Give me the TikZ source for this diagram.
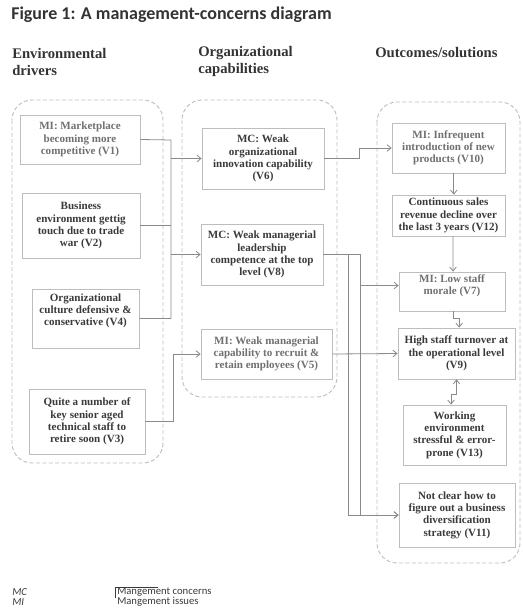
\documentclass[tikz,border=0pt]{standalone}
\usepackage{fontspec}
\setmainfont{Liberation Serif}
\newfontfamily\carl{Carlito}
\usetikzlibrary{arrows.meta,calc}
\definecolor{boxline}{HTML}{BDBDBD}
\definecolor{contline}{HTML}{BEBEBE}
\definecolor{connline}{HTML}{8A8A8A}
\definecolor{darktext}{HTML}{3A3A3A}
\definecolor{mitext}{HTML}{707070}
\definecolor{headtext}{HTML}{333333}
\begin{document}
\begin{tikzpicture}[x=0.75pt,y=-0.75pt,
  boxtext/.style={align=center, font=\bfseries\fontsize{8.3}{9.2}\selectfont, text=darktext, inner sep=1pt},
  box/.style={boxtext, draw=boxline, line width=0.6pt},
  mi/.style={text=mitext},
  cont/.style={draw=contline, dash pattern=on 3pt off 1.8pt, line width=0.7pt, rounded corners=15pt},
  conn/.style={draw=connline, line width=0.6pt},
  arr/.style={conn, -{Straight Barb[length=3pt,width=5pt]}},
  dbl/.style={conn, {Straight Barb[length=3pt,width=5pt]}-{Straight Barb[length=3pt,width=5pt]}},
  head/.style={align=left, font=\bfseries\fontsize{11}{12.75}\selectfont, text=headtext, inner sep=0pt},
  legend/.style={font=\carl\fontsize{8}{8.5}\selectfont, text=darktext, inner sep=0pt, anchor=west}
]
\useasboundingbox (0,0) rectangle (522,614);

% title and headers
\node[anchor=west, inner sep=0pt, font=\carl\bfseries\fontsize{13.5}{15}\selectfont, text=headtext] (title) at (11,15) {Figure 1: A management-concerns diagram};
\node[head, anchor=west] (h1) at (12,61.5) {Environmental\\drivers};
\node[head, anchor=west] (h2) at (198,61.5) {Organizational\\capabilities};
\node[head, anchor=west] (h3) at (375,53) {Outcomes/solutions};

% dashed containers
\draw[cont] (12,100) rectangle (163,463);
\draw[cont] (182,100) rectangle (337,397);
\draw[cont] (377,102) rectangle (520,563);

% left column
\node[box, mi, minimum width=90pt, minimum height=36.75pt] (V1) at (80,139.5) {MI: Marketplace\\becoming more\\competitive (V1)};
\node[box, minimum width=88.5pt, minimum height=48.75pt] (V2) at (81,225.5) {Business\\environment gettig\\touch due to trade\\war (V2)};
\node[box, minimum width=80.25pt, minimum height=44.25pt] (V4) at (85.5,318.5) {};
\node[boxtext] (V4t) at (85.5,311) {Organizational\\culture defensive \&\\conservative (V4)};
\node[box, minimum width=87pt, minimum height=48.75pt] (V3) at (87,421.5) {Quite a number of\\key senior aged\\technical staff to\\retire soon (V3)};

% middle column
\node[box, minimum width=91.5pt, minimum height=45.75pt] (V6) at (263,158.5) {MC: Weak\\organizational\\innovation capability\\(V6)};
\node[box, minimum width=91.5pt, minimum height=45.75pt] (V8) at (262,254.5) {MC: Weak managerial\\leadership\\competence at the top\\level (V8)};
\node[box, mi, minimum width=98.25pt, minimum height=37.5pt] (V5) at (266.5,354) {MI: Weak managerial\\capability to recruit \&\\retain employees (V5)};

% right column
\node[box, mi, minimum width=84.75pt, minimum height=37.5pt] (V10) at (448.5,148) {MI: Infrequent\\introduction of new\\products (V10)};
\node[box, minimum width=84.75pt, minimum height=30.75pt] (V12) at (448.5,215.5) {Continuous sales\\revenue decline over\\the last 3 years (V12)};
\node[box, minimum width=79.5pt, minimum height=29.25pt] (V7) at (452,291.5) {};
\node[boxtext, mi] (V7t) at (452,286) {MI: Low staff\\morale (V7)};
\node[box, minimum width=87.75pt, minimum height=38.25pt] (V9) at (456.5,353.5) {High staff turnover at\\the operational level\\(V9)};
\node[box, minimum width=77.25pt, minimum height=45pt] (V13) at (454.5,435) {Working\\environment\\stressful \& error-\\prone (V13)};
\node[box, minimum width=87pt, minimum height=48pt] (V11) at (457,515) {Not clear how to\\figure out a business\\diversification\\strategy (V11)};

% left -> middle
\coordinate (b1) at (171,140);
\draw[conn] (V1.east) -- (b1) |- (V4.east);
\draw[conn] (V2.east) -- (V2.east -| b1);
\draw[arr] (V6.west -| b1) -- (V6.west);
\draw[arr] (V8.west -| b1) -- (V8.west);
\coordinate (b2) at (173,354);
\draw[arr] (V3.east) -| (b2) -- (V5.west);

% middle -> right
\coordinate (c1) at (359,158.5);
\draw[arr] (V6.east) -- (c1) |- (V10.west);
\coordinate (c2) at (360,254.5);
\coordinate (c3) at (348,254.5);
\draw[arr] (V8.east) -- (c2) |- ([yshift=4.5pt]V7.west);
\draw[arr] (c2) |- (V11.west);
\draw[arr] (V8.east) -- (c3) |- (V11.west);
\draw[arr] (V5.east) -- (V9.west);

% within right column
\draw[arr] ([xshift=4pt]V10.south) -- ([xshift=4pt]V12.north);
\draw[arr] ([xshift=3.4pt]V12.south) -- ([xshift=0.75pt]V7.north);
\draw[arr] ([xshift=0.75pt]V7.south) -- ++(0,7) -| ([xshift=2pt]V9.north);
\draw[dbl] ([xshift=-2.6pt]V13.north) -- ++(0,-10) -| (V9.south);

% legend
\node[legend, font=\carl\itshape\fontsize{8}{8.5}\selectfont] (lmc) at (12,592) {MC};
\node[legend, font=\carl\itshape\fontsize{8}{8.5}\selectfont] (lmi) at (12,602) {MI};
\node[legend] (lc) at (117,592) {Mangement concerns};
\node[legend] (li) at (117,602) {Mangement issues};
\draw[draw=darktext, line width=0.4pt] (115,598) -- (115,587) -- (158,587);
\end{tikzpicture}
\end{document}
